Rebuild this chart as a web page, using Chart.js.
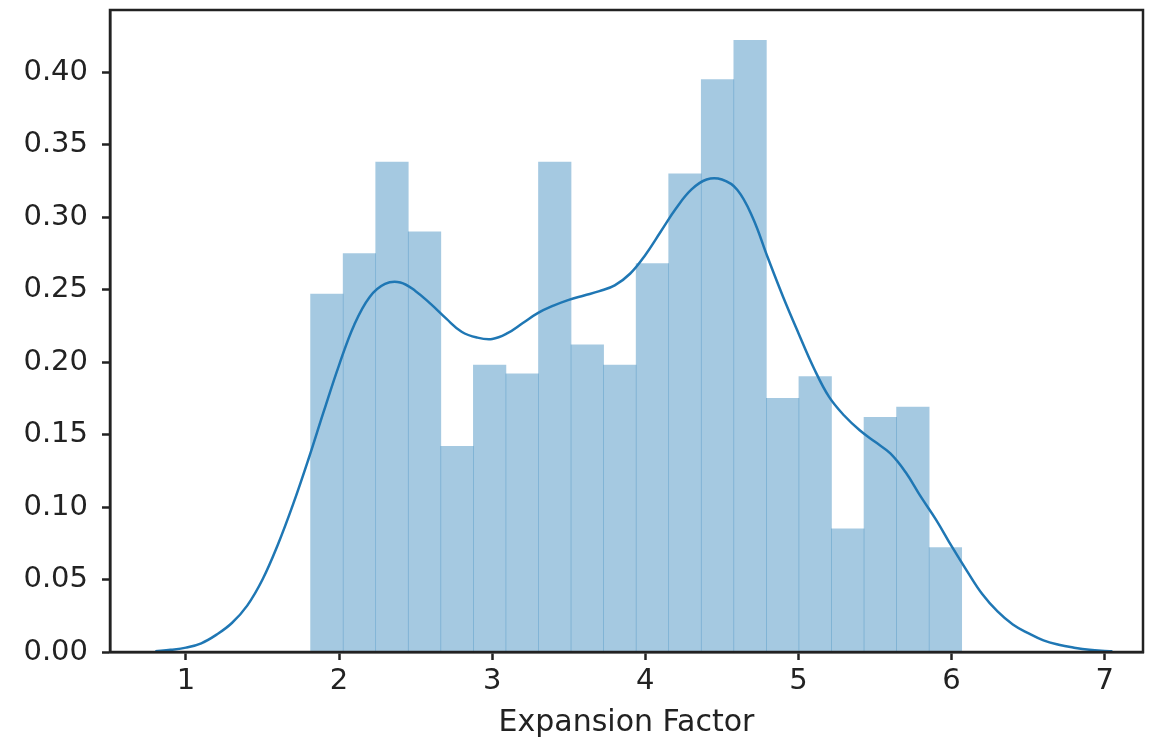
<!DOCTYPE html>
<html>
<head>
<meta charset="utf-8">
<script src="https://cdn.jsdelivr.net/npm/chart.js@4/dist/chart.umd.min.js"></script>
<style>
  html, body { margin: 0; padding: 0; background: #fff; }
  #wrap { width: 1156px; height: 745px; }
</style>
</head>
<body>
<div id="wrap"><canvas id="distChart"></canvas></div>
<script>
    // Histograma: centros de las barras y densidad
    const binCenters = [1.9203, 2.1329, 2.3455, 2.5581, 2.7707, 2.9833, 3.1959, 3.4085, 3.6211, 3.8337,
                        4.0463, 4.2589, 4.4715, 4.6841, 4.8967, 5.1093, 5.3219, 5.5345, 5.7471, 5.9597];
    const binDensity = [0.247, 0.275, 0.338, 0.290, 0.142, 0.198, 0.192, 0.338, 0.212, 0.198,
                        0.268, 0.330, 0.395, 0.422, 0.175, 0.190, 0.085, 0.162, 0.169, 0.072];

    // Curva KDE
    const kdeX = [0.8, 0.9, 1.0, 1.1, 1.2, 1.3, 1.4, 1.5, 1.6, 1.7, 1.8, 1.9, 2.0, 2.1, 2.2, 2.3, 2.4, 2.5,
                  2.6, 2.7, 2.8, 2.9, 3.0, 3.1, 3.2, 3.3, 3.4, 3.5, 3.6, 3.7, 3.8, 3.9, 4.0, 4.1, 4.2, 4.3,
                  4.4, 4.5, 4.6, 4.7, 4.8, 4.9, 5.0, 5.1, 5.2, 5.3, 5.4, 5.5, 5.6, 5.7, 5.8, 5.9, 6.0, 6.1,
                  6.2, 6.3, 6.4, 6.5, 6.6, 6.7, 6.8, 6.9, 7.0, 7.05];
    const kdeY = [0.0005, 0.0015, 0.003, 0.006, 0.012, 0.020, 0.032, 0.050, 0.074, 0.102, 0.133, 0.166, 0.198, 0.226,
                  0.245, 0.254, 0.255, 0.249, 0.240, 0.230, 0.221, 0.217, 0.216, 0.220, 0.227, 0.234, 0.239, 0.243,
                  0.246, 0.249, 0.253, 0.261, 0.274, 0.290, 0.306, 0.319, 0.326, 0.326, 0.319, 0.300, 0.272, 0.245,
                  0.220, 0.196, 0.176, 0.163, 0.153, 0.145, 0.137, 0.124, 0.107, 0.091, 0.073, 0.056, 0.040, 0.028,
                  0.019, 0.013, 0.008, 0.005, 0.003, 0.0015, 0.0007, 0.0005];

    const xTicks = [1, 2, 3, 4, 5, 6, 7];
    const yTicks = [0.00, 0.05, 0.10, 0.15, 0.20, 0.25, 0.30, 0.35, 0.40];

    const inkColor = '#222222';
    const tickFont = { family: 'DejaVu Sans', size: 29 };

    // Marco completo (spines arriba y derecha)
    const framePlugin = {
        id: 'frame',
        afterDraw(chart) {
            const { ctx, chartArea: a } = chart;
            ctx.save();
            ctx.strokeStyle = inkColor;
            ctx.lineWidth = 2.5;
            ctx.strokeRect(a.left, a.top, a.right - a.left, a.bottom - a.top);
            ctx.restore();
        }
    };

    const ctx = document.getElementById('distChart').getContext('2d');
    const distChart = new Chart(ctx, {
        type: 'bar',
        data: {
            datasets: [{
                type: 'line',
                data: kdeX.map((x, i) => ({ x: x, y: kdeY[i] })),
                borderColor: '#1f77b4',
                borderWidth: 2.5,
                pointRadius: 0,
                fill: false,
                tension: 0.4,
                order: 0
            }, {
                type: 'bar',
                data: binCenters.map((x, i) => ({ x: x, y: binDensity[i] })),
                backgroundColor: 'rgba(31,119,180,0.4)',
                borderWidth: 0,
                barPercentage: 1.0,
                categoryPercentage: 1.0,
                order: 1
            }]
        },
        options: {
            responsive: true,
            maintainAspectRatio: false,
            animation: false,
            layout: { padding: { left: 0, right: 13, top: 10, bottom: 0 } },
            plugins: { legend: { display: false }, tooltip: { enabled: false } },
            scales: {
                x: {
                    type: 'linear',
                    min: 0.504,
                    max: 7.25,
                    offset: false,
                    afterFit(scale) {
                        scale.height = 93;
                        scale.paddingLeft = 0;
                        scale.paddingRight = 0;
                    },
                    afterBuildTicks(scale) { scale.ticks = xTicks.map(v => ({ value: v })); },
                    grid: { offset: false, drawOnChartArea: false, drawTicks: true, tickLength: 8, tickWidth: 2.5, color: inkColor },
                    border: { display: true, color: inkColor, width: 2.5 },
                    ticks: { color: inkColor, font: tickFont, padding: 4, maxRotation: 0, includeBounds: false },
                    title: { display: true, text: 'Expansion Factor', color: inkColor,
                             font: { family: 'DejaVu Sans', size: 30 }, padding: { top: 0, bottom: 4 } }
                },
                y: {
                    min: 0,
                    max: 0.443,
                    afterFit(scale) {
                        scale.width = 110;
                        scale.paddingTop = 0;
                        scale.paddingBottom = 0;
                    },
                    afterBuildTicks(scale) { scale.ticks = yTicks.map(v => ({ value: v })); },
                    grid: { drawOnChartArea: false, drawTicks: true, tickLength: 8, tickWidth: 2.5, color: inkColor },
                    border: { display: true, color: inkColor, width: 2.5 },
                    ticks: { color: inkColor, font: tickFont, padding: 14, includeBounds: false,
                             callback: v => v.toFixed(2) }
                }
            }
        },
        plugins: [framePlugin]
    });
</script>
</body>
</html>
